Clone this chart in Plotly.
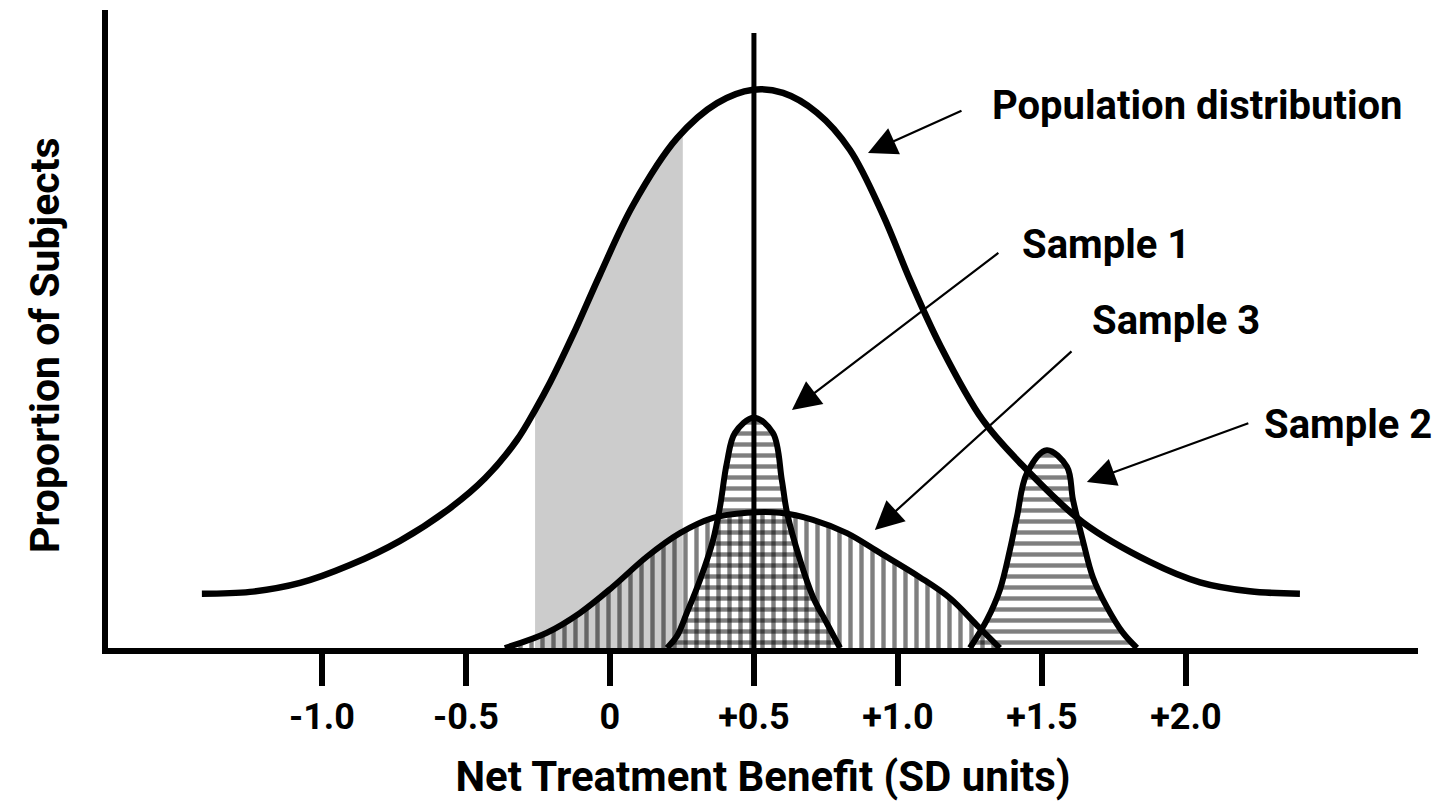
import plotly.graph_objects as go

# ---- data (x in SD units, y in relative proportion) ----
pop_x = [-1.417, -1.250, -1.076, -0.903, -0.729, -0.556, -0.434, -0.323, -0.260, -0.208,
         -0.128, -0.035, 0.080, 0.233, 0.372, 0.497, 0.601, 0.719, 0.833, 0.948,
         1.042, 1.146, 1.295, 1.448, 1.642, 1.875, 2.049, 2.222, 2.396]
pop_y = [0.085, 0.088, 0.102, 0.130, 0.168, 0.219, 0.266, 0.326, 0.373, 0.416,
         0.491, 0.585, 0.694, 0.799, 0.854, 0.875, 0.870, 0.839, 0.781, 0.679,
         0.577, 0.475, 0.357, 0.279, 0.197, 0.135, 0.103, 0.089, 0.085]

gray_x = [-0.260, -0.208, -0.128, -0.035, 0.080, 0.174, 0.253]
gray_y = [0.373, 0.416, 0.491, 0.585, 0.694, 0.765, 0.802]

s1_x = [0.198, 0.233, 0.267, 0.313, 0.358, 0.382, 0.406, 0.434, 0.500,
        0.566, 0.597, 0.615, 0.660, 0.705, 0.753, 0.799]
s1_y = [0.000, 0.019, 0.055, 0.107, 0.169, 0.221, 0.290, 0.337, 0.361,
        0.337, 0.263, 0.212, 0.138, 0.080, 0.039, 0.000]

s3_x = [-0.365, -0.219, -0.104, 0.010, 0.128, 0.243, 0.358, 0.476, 0.590,
        0.705, 0.823, 0.938, 1.076, 1.181, 1.274, 1.354]
s3_y = [0.000, 0.024, 0.055, 0.096, 0.143, 0.180, 0.204, 0.212, 0.212,
        0.201, 0.180, 0.149, 0.111, 0.078, 0.036, 0.000]

s2_x = [1.250, 1.309, 1.354, 1.389, 1.413, 1.448, 1.517, 1.587, 1.608,
        1.642, 1.677, 1.726, 1.781, 1.830]
s2_y = [0.000, 0.044, 0.091, 0.154, 0.205, 0.274, 0.310, 0.284, 0.232,
        0.169, 0.111, 0.064, 0.024, 0.000]

mean_x = 0.5
mean_top = 0.964

tick_vals = [-1.0, -0.5, 0.0, 0.5, 1.0, 1.5, 2.0]
tick_text = ["-1.0", "-0.5", "0", "+0.5", "+1.0", "+1.5", "+2.0"]

labels = ["Population distribution", "Sample 1", "Sample 3", "Sample 2"]
label_x = [1.319, 1.424, 1.667, 2.264]
label_y = [0.851, 0.632, 0.514, 0.350]
arrow_tail_x = [1.226, 1.354, 1.608, 2.222]
arrow_tail_y = [0.843, 0.621, 0.467, 0.353]
arrow_head_x = [0.896, 0.632, 0.920, 1.656]
arrow_head_y = [0.776, 0.373, 0.185, 0.260]

FONT = "Roboto, Liberation Sans, sans-serif"

fig = go.Figure()

# grey shaded band under the population curve
fig.add_trace(go.Scatter(x=gray_x, y=gray_y, mode="lines", line=dict(width=0, shape="spline"),
                         fill="tozeroy", fillcolor="#cccccc", hoverinfo="skip"))

hatch_common = dict(size=11, solidity=0.4, fgcolor="black", bgcolor="rgba(0,0,0,0)")

# Sample 3 (vertical hatching)
fig.add_trace(go.Scatter(x=s3_x, y=s3_y, mode="lines",
                         line=dict(color="black", width=6, shape="spline"),
                         fill="tozeroy", fillcolor="rgba(0,0,0,0)",
                         fillpattern=dict(shape="|", **hatch_common)))
# Sample 1 (horizontal hatching)
fig.add_trace(go.Scatter(x=s1_x, y=s1_y, mode="lines",
                         line=dict(color="black", width=6, shape="spline"),
                         fill="tozeroy", fillcolor="rgba(0,0,0,0)",
                         fillpattern=dict(shape="-", **hatch_common)))
# Sample 2 (horizontal hatching)
fig.add_trace(go.Scatter(x=s2_x, y=s2_y, mode="lines",
                         line=dict(color="black", width=6, shape="spline"),
                         fill="tozeroy", fillcolor="rgba(0,0,0,0)",
                         fillpattern=dict(shape="-", **hatch_common)))
# Population distribution
fig.add_trace(go.Scatter(x=pop_x, y=pop_y, mode="lines",
                         line=dict(color="black", width=6.5, shape="spline")))
# mean line
fig.add_trace(go.Scatter(x=[mean_x, mean_x], y=[0, mean_top], mode="lines",
                         line=dict(color="black", width=5)))

annotations = []
for t, lx, ly in zip(labels, label_x, label_y):
    annotations.append(dict(x=lx, y=ly, xref="x", yref="y", text=t, showarrow=False,
                            xanchor="left", yanchor="middle",
                            font=dict(family=FONT, size=40, color="black", weight="bold")))
for tx, ty, hx, hy in zip(arrow_tail_x, arrow_tail_y, arrow_head_x, arrow_head_y):
    annotations.append(dict(x=hx, y=hy, ax=tx, ay=ty, xref="x", yref="y", axref="x", ayref="y",
                            text="", showarrow=True, arrowhead=2, arrowsize=2.6, arrowwidth=2.2,
                            arrowcolor="black", standoff=0, startstandoff=0))

# page has an 8px body margin: figure is 1425x793, plot area lands at page px 108..1418 x 10..648
W, H = 1425, 793
L, R, T, B = 100, 15, 2, 153
plot_w = W - L - R
plot_h = H - T - B
annotations.append(dict(x=(37 - L) / plot_w, y=(640 - 337) / plot_h, xref="paper", yref="paper",
                        text="Proportion of Subjects", showarrow=False, textangle=-90,
                        xanchor="center", yanchor="middle",
                        font=dict(family=FONT, size=41, color="black", weight="bold")))

fig.update_layout(
    width=W, height=H,
    margin=dict(l=L, r=R, t=T, b=B),
    paper_bgcolor="white", plot_bgcolor="white",
    showlegend=False,
    annotations=annotations,
    xaxis=dict(range=[-1.743, 2.806], showgrid=False, zeroline=False,
               showline=True, linecolor="black", linewidth=6,
               tickmode="array", tickvals=tick_vals, ticktext=tick_text,
               ticks="outside", ticklen=32, tickwidth=6, tickcolor="black",
               ticklabelstandoff=0,
               tickfont=dict(family=FONT, size=36, color="black", weight="bold"),
               title=dict(text="Net Treatment Benefit (SD units)", standoff=28,
                          font=dict(family=FONT, size=42, color="black", weight="bold"))),
    yaxis=dict(range=[0, 1.0], showgrid=False, zeroline=False,
               showline=True, linecolor="black", linewidth=6,
               showticklabels=False, ticks=""),
)

fig.write_html("out.html")
